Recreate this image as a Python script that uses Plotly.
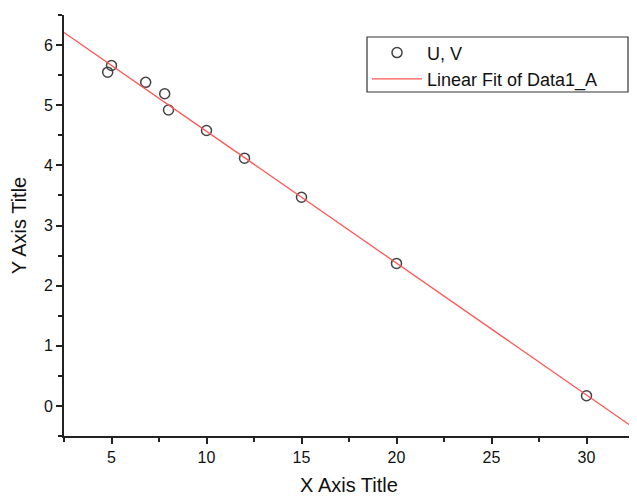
import numpy as np
import plotly.graph_objects as go

x_vals = [4.8, 5.0, 6.8, 7.8, 8.0, 10, 12, 15, 20, 30]
y_vals = [5.55, 5.66, 5.38, 5.19, 4.92, 4.58, 4.12, 3.47, 2.37, 0.17]
x_range = [2.5, 32.5]
y_range = [-0.5, 6.5]
x_ticks = [5, 10, 15, 20, 25, 30]
y_ticks = [0, 1, 2, 3, 4, 5, 6]

slope, intercept = np.polyfit(x_vals, y_vals, 1)
fit_x = np.array(x_range)
fit_y = intercept + slope * fit_x

FONT = "Liberation Sans, Arial"

fig = go.Figure()
fig.add_trace(go.Scatter(
    x=x_vals, y=y_vals, mode="markers", name="U, V",
    marker=dict(symbol="circle-open", size=10, color="#444444", line=dict(width=1.5)),
))
fig.add_trace(go.Scatter(
    x=fit_x, y=fit_y, mode="lines", name="Linear Fit of Data1_A",
    line=dict(color="#ff5555", width=1.3),
))

axis_common = dict(
    showgrid=False, zeroline=False, showline=True, linecolor="#222222", linewidth=2,
    ticks="outside", ticklen=6, tickwidth=1.5, tickcolor="#222222", automargin=False,
    tickfont=dict(family=FONT, size=16, color="#111111"),
    minor=dict(ticks="outside", ticklen=4, tickwidth=1.5, tickcolor="#222222"),
)

fig.update_xaxes(range=x_range, tickvals=x_ticks, minor_dtick=2.5, minor_tick0=0,
                 title=dict(text="X Axis Title", font=dict(family=FONT, size=20, color="#111111"), standoff=15),
                 **axis_common)
fig.update_yaxes(range=y_range, tickvals=y_ticks, minor_dtick=0.5, minor_tick0=0,
                 title=dict(text="Y Axis Title", font=dict(family=FONT, size=20, color="#111111"), standoff=12),
                 **axis_common)

# legend frame
fig.add_shape(type="rect", xref="paper", yref="paper",
              x0=0.5316, x1=0.9895, y0=0.8171, y1=0.9477,
              line=dict(color="#333333", width=1.2), fillcolor="rgba(0,0,0,0)", layer="above")

fig.update_layout(
    width=629, height=488,
    margin=dict(l=56, r=3, t=7, b=60),
    plot_bgcolor="white", paper_bgcolor="white",
    legend=dict(x=0.5316, y=0.954, xanchor="left", yanchor="top",
                borderwidth=0, bgcolor="rgba(0,0,0,0)",
                font=dict(family=FONT, size=18, color="#111111"),
                itemwidth=50),
    showlegend=True,
)

fig.write_html("out.html")
